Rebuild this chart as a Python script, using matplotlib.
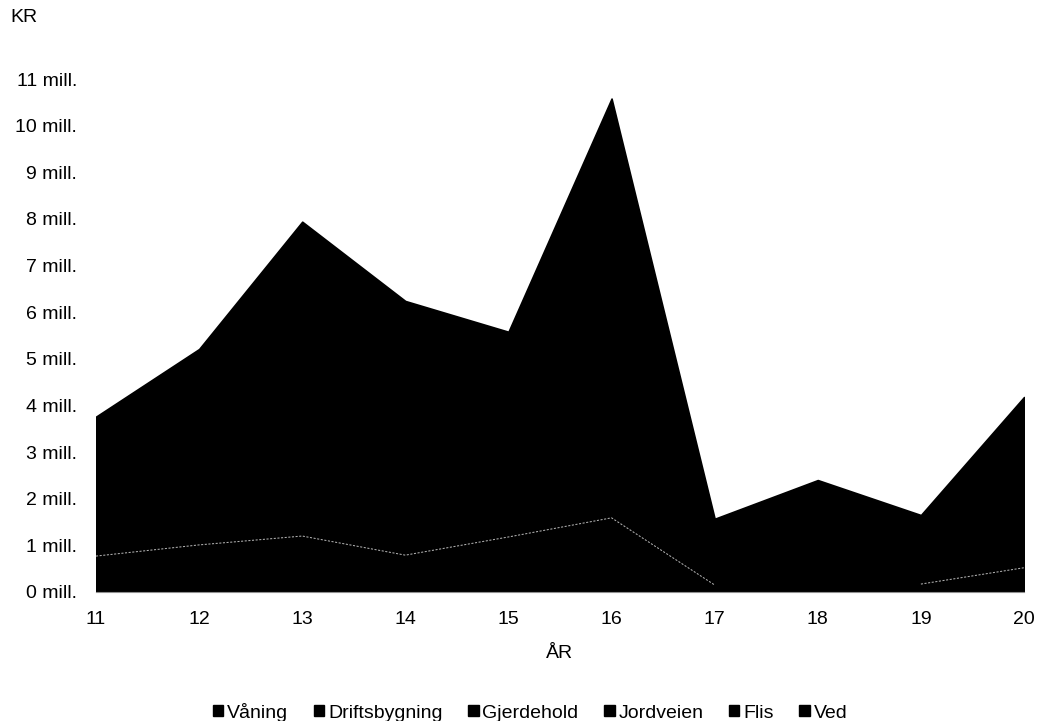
import numpy as np
import matplotlib
matplotlib.use("Agg")
import matplotlib.pyplot as plt
from matplotlib.patches import Patch
from matplotlib.ticker import FuncFormatter

plt.rcParams['font.family'] = ['Liberation Sans', 'DejaVu Sans']

years = [11, 12, 13, 14, 15, 16, 17, 18, 19, 20]
series_names = ["Våning", "Driftsbygning", "Gjerdehold", "Jordveien", "Flis", "Ved"]
vaning        = [0.77, 1.01, 1.20, 0.79, 1.18, 1.59, 0.15, 0.16, 0.17, 0.52]
driftsbygning = [2.29, 3.15, 5.14, 4.20, 3.38, 6.89, 1.04, 1.66, 1.10, 2.76]
gjerdehold    = [0.10, 0.15, 0.20, 0.10, 0.12, 0.30, 0.05, 0.08, 0.05, 0.10]
jordveien     = [0.20, 0.30, 0.50, 0.40, 0.30, 0.60, 0.10, 0.20, 0.10, 0.30]
flis          = [0.25, 0.40, 0.60, 0.50, 0.40, 0.80, 0.15, 0.20, 0.15, 0.35]
ved           = [0.15, 0.20, 0.30, 0.25, 0.20, 0.40, 0.08, 0.10, 0.08, 0.15]
y_ticks = list(range(0, 12))

data = [np.array(s) * 1e6 for s in (vaning, driftsbygning, gjerdehold, jordveien, flis, ved)]

FS = 14

fig = plt.figure(figsize=(10.38, 7.21), dpi=100)
ax = fig.add_axes([96/1038, 1 - 592/721, (1024 - 96)/1038, (592 - 79)/721])

polys = ax.stackplot(years, *data, colors=['black'] * 6, linewidth=1.2, edgecolor='black')

# faint seam above the first layer
seam = np.array(data[0], dtype=float)
seam_masked = seam.copy()
seam_masked[years.index(18)] = np.nan
ax.plot(years, seam_masked, color='#b0b0b0', lw=0.75, ls=(0, (2, 1.5)), zorder=5)

ax.set_xlim(years[0], years[-1])
ax.set_ylim(0, 11e6)
ax.set_xticks(years)
ax.set_yticks([v * 1e6 for v in y_ticks])
ax.yaxis.set_major_formatter(FuncFormatter(lambda v, p: f"{v/1e6:.0f} mill."))
ax.tick_params(axis='both', length=0, labelsize=FS, colors='black')
ax.tick_params(axis='y', pad=13.5)
ax.tick_params(axis='x', pad=14)
for s in ['left', 'top', 'right']:
    ax.spines[s].set_visible(False)
ax.spines['bottom'].set_color('#909090')
ax.spines['bottom'].set_linewidth(0.8)

ax.set_xlabel("ÅR", fontsize=FS, labelpad=12)
fig.text(10/1038, 1 - 18/721, "KR", fontsize=FS, ha='left', va='center')

handles = [Patch(facecolor='black', edgecolor='black') for _ in series_names]
fig.legend(handles, series_names, loc='center', bbox_to_anchor=(530/1038, 1 - 712/721),
           ncol=6, frameon=False, fontsize=FS, handlelength=0.55, handleheight=0.55,
           handletextpad=0.2, columnspacing=1.3)

fig.savefig("out.png", dpi=100)
